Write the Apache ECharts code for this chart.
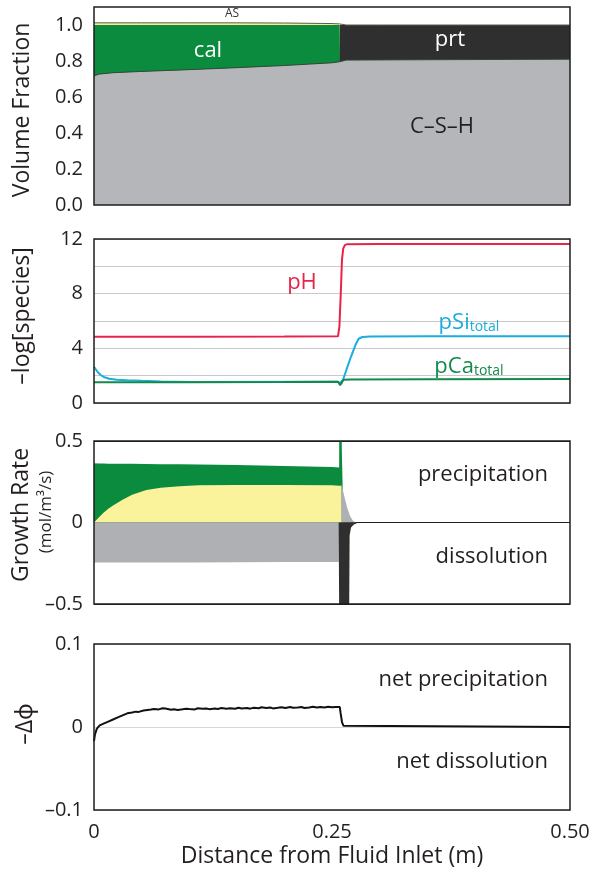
<!DOCTYPE html>
<html>
<head>
<meta charset="utf-8">
<script src="https://cdn.jsdelivr.net/npm/echarts@6/dist/echarts.min.js"></script>
<style>
  html, body { margin: 0; padding: 0; background: #fff; }
  #chart { width: 597px; height: 873px; }
</style>
</head>
<body>
<div id="chart"></div>
<script>
// ---------- Volume fractions along the column ----------
const distVF = [0, 0.005, 0.02, 0.05, 0.1, 0.15, 0.2, 0.25, 0.258, 0.2583, 0.265, 0.3, 0.4, 0.5];
const cshVF  = [0.717, 0.727, 0.735, 0.742, 0.752, 0.763, 0.775, 0.79, 0.796, 0.797, 0.805, 0.806, 0.808, 0.81];
const calVF  = [0.283, 0.273, 0.265, 0.258, 0.248, 0.237, 0.225, 0.21, 0.204, 0, 0, 0, 0, 0];
const asVF   = [0.012, 0.012, 0.012, 0.012, 0.012, 0.012, 0.011, 0.008, 0.006, 0, 0, 0, 0, 0];
const prtVF  = [0, 0, 0, 0, 0, 0, 0, 0, 0, 0.203, 0.195, 0.194, 0.192, 0.19];

// ---------- -log[species] profiles ----------
const pHDist = [0, 0.1, 0.2, 0.2563, 0.2578, 0.2592, 0.2605, 0.2618, 0.2635, 0.266, 0.3, 0.4, 0.5];
const pHVal  = [4.85, 4.85, 4.86, 4.88, 5.6, 8.0, 10.5, 11.3, 11.55, 11.62, 11.63, 11.63, 11.63];

const pSiDist = [0, 0.002, 0.004, 0.007, 0.011, 0.016, 0.024, 0.035, 0.05, 0.07, 0.1, 0.256, 0.2585, 0.2616, 0.265, 0.27, 0.275, 0.278, 0.282, 0.29, 0.35, 0.5];
const pSiVal  = [2.65, 2.45, 2.25, 2.05, 1.88, 1.77, 1.7, 1.66, 1.62, 1.58, 1.54, 1.55, 1.45, 1.7, 2.4, 3.4, 4.3, 4.7, 4.83, 4.87, 4.88, 4.88];

const pCaDist = [0, 0.1, 0.2, 0.2565, 0.2585, 0.26, 0.262, 0.27, 0.35, 0.5];
const pCaVal  = [1.52, 1.52, 1.53, 1.55, 1.3, 1.45, 1.7, 1.72, 1.73, 1.75];

// ---------- Mineral growth rates (mol/m3/s) ----------
const rateDist = [0, 0.002, 0.005, 0.01, 0.015, 0.02, 0.03, 0.04, 0.055, 0.07, 0.09, 0.11, 0.15, 0.2, 0.25, 0.2575, 0.2577, 0.26, 0.2603, 0.2617, 0.262, 0.5];
const asRate   = [0, 0.01, 0.03, 0.06, 0.085, 0.105, 0.14, 0.17, 0.2, 0.213, 0.222, 0.228, 0.23, 0.23, 0.228, 0.226, 0.226, 0.226, 0, 0, 0, 0];
const calRate  = [0.363, 0.353, 0.332, 0.302, 0.276, 0.256, 0.22, 0.19, 0.159, 0.145, 0.135, 0.128, 0.122, 0.117, 0.113, 0.112, 0.45, 0.45, 0.45, 0.45, 0, 0];

const cshDist = [0, 0.1, 0.2, 0.25, 0.2572, 0.2575, 0.2598, 0.26, 0.263, 0.266, 0.269, 0.272, 0.275, 0.5];
const cshRate = [-0.246, -0.245, -0.243, -0.242, -0.242, 0, 0, 0.235, 0.16, 0.09, 0.04, 0.01, 0, 0];

const prtDist = [0, 0.257, 0.2577, 0.2679, 0.2685, 0.27, 0.273, 0.276, 0.279, 0.5];
const prtRate = [0, 0, -0.7, -0.7, -0.08, -0.03, -0.012, -0.004, 0, 0];

// ---------- Net porosity change ----------
const phiDist = [0, 0.001, 0.003, 0.006, 0.01, 0.015, 0.02, 0.025, 0.03, 0.035, 0.04, 0.044, 0.047, 0.052, 0.056, 0.06, 0.063, 0.068, 0.072, 0.075, 0.081, 0.084, 0.088, 0.093, 0.097, 0.1, 0.106, 0.109, 0.114, 0.118, 0.121, 0.127, 0.13, 0.134, 0.139, 0.143, 0.148, 0.152, 0.155, 0.161, 0.164, 0.168, 0.173, 0.176, 0.181, 0.185, 0.188, 0.193, 0.197, 0.201, 0.206, 0.209, 0.214, 0.218, 0.221, 0.226, 0.23, 0.234, 0.238, 0.242, 0.246, 0.25, 0.254, 0.2582, 0.259, 0.2605, 0.262, 0.264, 0.5];
const phiVal  = [-0.017, -0.009, -0.002, 0.002, 0.004, 0.0065, 0.009, 0.0115, 0.014, 0.0165, 0.0175, 0.0185, 0.0182, 0.0198, 0.0205, 0.021, 0.0218, 0.0212, 0.0225, 0.0222, 0.0208, 0.0214, 0.0206, 0.0213, 0.0221, 0.0217, 0.0212, 0.0226, 0.0219, 0.0224, 0.0215, 0.0222, 0.0218, 0.0229, 0.0221, 0.0226, 0.0219, 0.0232, 0.0224, 0.0229, 0.0221, 0.0233, 0.0226, 0.0238, 0.0229, 0.0235, 0.0224, 0.0231, 0.0237, 0.0228, 0.0242, 0.0233, 0.0236, 0.0241, 0.0229, 0.0236, 0.0244, 0.0234, 0.024, 0.0235, 0.0243, 0.0238, 0.0242, 0.024, 0.017, 0.006, 0.0015, 0, 0];

const xTicks = [0, 0.25, 0.5];

// ---------- helpers ----------
const pairs = (xs, ys) => xs.map((x, i) => [x, ys[i]]);
const addUp = (...arrs) => arrs[0].map((_, i) => arrs.reduce((s, a) => s + a[i], 0));

const FONT = '"Open Sans", "Noto Sans", sans-serif';
const INK = '#231f20';
const C = {
  csh: '#b5b6b9', cal: '#0b8b3d', prt: '#2f2f2f', as: '#f7ef93',
  cshRate: '#aeb0b4', asRate: '#fbf29c',
  pH: '#e8234b', pSi: '#1badde', pCa: '#138a4b'
};
const NAME_SIZE = 23;
const NOTE_SIZE = 22;
const TICK_SIZE = 20;

const grids = [
  { left: 94, right: 27, top: 7, height: 198 },
  { left: 94, right: 27, top: 239, height: 164 },
  { left: 94, right: 27, top: 441, height: 163 },
  { left: 94, right: 27, top: 644, height: 166 }
].map(g => Object.assign(g, { show: true, borderColor: '#1e1e1e', borderWidth: 1.5, backgroundColor: 'transparent', z: 10 }));

const xAxes = grids.map((g, i) => ({
  type: 'value', gridIndex: i, min: xTicks[0], max: xTicks[2], interval: xTicks[1] - xTicks[0],
  axisLine: { show: false }, axisTick: { show: false }, splitLine: { show: false },
  axisLabel: {
    show: i === 3, fontSize: TICK_SIZE, fontFamily: FONT, color: INK, margin: 12,
    formatter: v => (v === 0 ? '0' : v.toFixed(2))
  },
  name: i === 3 ? 'Distance from Fluid Inlet (m)' : '',
  nameLocation: 'middle', nameGap: 35,
  nameTextStyle: { fontSize: NAME_SIZE, fontFamily: FONT, color: INK }
}));

const dash = s => String(s).replace('-', '\u2013');
const yBase = {
  axisLine: { show: false }, axisTick: { show: false },
  axisLabel: { fontSize: TICK_SIZE, fontFamily: FONT, color: INK, margin: 11 }
};
const yAxes = [
  Object.assign({}, yBase, {
    type: 'value', gridIndex: 0, min: 0, max: 1.1, interval: 0.2, splitLine: { show: false },
    axisLabel: Object.assign({}, yBase.axisLabel, {
      formatter: v => (Math.abs(v * 5 - Math.round(v * 5)) < 1e-6 ? v.toFixed(1) : '')
    })
  }),
  Object.assign({}, yBase, {
    type: 'value', gridIndex: 1, min: 0, max: 12, interval: 2,
    splitLine: { show: true, lineStyle: { color: '#c9c9c9', width: 1 } },
    axisLabel: Object.assign({}, yBase.axisLabel, { formatter: v => (v % 4 === 0 ? String(v) : '') })
  }),
  Object.assign({}, yBase, {
    type: 'value', gridIndex: 2, min: -0.5, max: 0.5, interval: 0.5,
    splitLine: { show: true, lineStyle: { color: '#1e1e1e', width: 1 } },
    axisLabel: Object.assign({}, yBase.axisLabel, { formatter: v => dash(v) })
  }),
  Object.assign({}, yBase, {
    type: 'value', gridIndex: 3, min: -0.1, max: 0.1, interval: 0.1,
    splitLine: { show: true, lineStyle: { color: '#d6d6d6', width: 1 } },
    axisLabel: Object.assign({}, yBase.axisLabel, { formatter: v => dash(v) })
  })
];

function area(idx, data, color, line) {
  return {
    type: 'line', xAxisIndex: idx, yAxisIndex: idx, data: data,
    showSymbol: false, symbol: 'none', silent: true, clip: true,
    lineStyle: line || { width: 0, color: color },
    areaStyle: { color: color, opacity: 1 }
  };
}
function curve(idx, data, color, width) {
  return {
    type: 'line', xAxisIndex: idx, yAxisIndex: idx, data: data,
    showSymbol: false, symbol: 'none', silent: true, clip: true,
    lineStyle: { width: width, color: color }
  };
}

const series = [
  // volume fractions, painted from the outermost layer inward
  area(0, pairs(distVF, addUp(cshVF, calVF, asVF, prtVF)), C.as, { width: 1, color: '#5e5a4a' }),
  area(0, pairs(distVF, addUp(cshVF, calVF)), C.cal),
  area(0, pairs(distVF, addUp(cshVF, prtVF)), C.prt),
  area(0, pairs(distVF, cshVF), C.csh, { width: 1, color: '#2d4a36' }),

  // species
  curve(1, pairs(pHDist, pHVal), C.pH, 2),
  curve(1, pairs(pSiDist, pSiVal), C.pSi, 2),
  curve(1, pairs(pCaDist, pCaVal), C.pCa, 2),

  // growth rates
  area(2, pairs(rateDist, addUp(asRate, calRate)), C.cal),
  area(2, pairs(rateDist, asRate), C.asRate),
  area(2, pairs(cshDist, cshRate), C.cshRate),
  area(2, pairs(prtDist, prtRate), C.prt),

  // porosity change
  curve(3, pairs(phiDist, phiVal), '#111', 2)
];

function txt(x, y, text, opt) {
  opt = opt || {};
  return {
    type: 'text', x: x, y: y, z: 100, silent: true,
    rotation: opt.rot || 0,
    style: Object.assign({
      text: text, fill: opt.color || INK, fontSize: opt.size || NOTE_SIZE, fontFamily: FONT,
      align: opt.align || 'center', verticalAlign: 'middle'
    }, opt.rich ? { rich: opt.rich } : {})
  };
}
const sub = color => ({
  a: { fontSize: NOTE_SIZE, fontFamily: FONT, fill: color },
  b: { fontSize: 14, fontFamily: FONT, fill: color, padding: [9, 0, 0, 0] }
});
const R = Math.PI / 2;
const graphic = [
  txt(22, 110, 'Volume Fraction', { rot: R, size: NAME_SIZE }),
  txt(22, 316, '\u2013log[species]', { rot: R, size: NAME_SIZE }),
  txt(21, 515, 'Growth Rate', { rot: R, size: NAME_SIZE }),
  txt(46, 512, '(mol/m\u00b3/s)', { rot: R, size: 17 }),
  txt(25, 724, '\u2013\u0394\u03d5', { rot: R, size: NAME_SIZE }),

  txt(208, 51, 'cal', { color: '#ffffff' }),
  txt(450, 40, 'prt', { color: '#ffffff' }),
  txt(442, 127, 'C\u2013S\u2013H'),
  txt(232, 14, 'AS', { size: 12, color: '#333' }),

  txt(302, 283, 'pH', { color: C.pH }),
  txt(469, 323, '{a|pSi}{b|total}', { color: C.pSi, rich: sub(C.pSi) }),
  txt(469, 367, '{a|pCa}{b|total}', { color: C.pCa, rich: sub(C.pCa) }),

  txt(548, 475, 'precipitation', { align: 'right' }),
  txt(548, 557, 'dissolution', { align: 'right' }),
  txt(548, 680, 'net precipitation', { align: 'right' }),
  txt(548, 762, 'net dissolution', { align: 'right' })
];

const chart = echarts.init(document.getElementById('chart'), null, { renderer: 'canvas' });
chart.setOption({
  animation: false,
  backgroundColor: '#ffffff',
  grid: grids,
  xAxis: xAxes,
  yAxis: yAxes,
  series: series,
  graphic: graphic
});
</script>
</body>
</html>
